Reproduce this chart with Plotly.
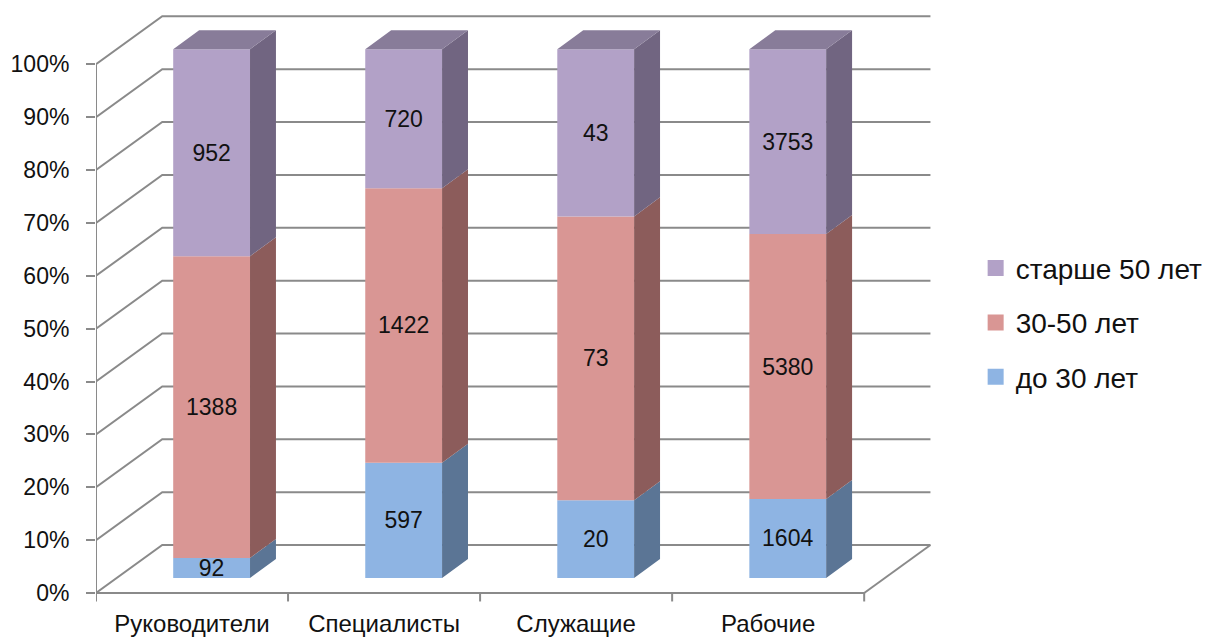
import numpy as np
import plotly.graph_objects as go

# ---------------- data ----------------
categories = ["Руководители", "Специалисты", "Служащие", "Рабочие"]
series_names = ["до 30 лет", "30-50 лет", "старше 50 лет"]
under_30 = [92, 597, 20, 1604]
from_30_to_50 = [1388, 1422, 73, 5380]
over_50 = [952, 720, 43, 3753]
y_ticks = list(range(0, 101, 10))

# ---------------- style ----------------
front_colors = ["#8EB4E3", "#D99694", "#B2A1C7"]
side_colors = ["#5B7595", "#8C5C5B", "#716581"]
top_color = "#887C99"
line_color = "#8A8A8A"
FONT = "Liberation Sans, Arial, sans-serif"

# pseudo-3D geometry (axis units)
DEPTH_X, DEPTH_Y = 0.345, 9.07      # full depth of the walls
BAR_DX, BAR_DY = 0.102, 2.84        # bar front face offset from the front plane
BAR_W = 0.40                        # bar front width
BAR_DEPTH_X, BAR_DEPTH_Y = 0.135, 3.6

counts = np.array([under_30, from_30_to_50, over_50], dtype=float)
pct = counts / counts.sum(axis=0) * 100.0
cum = np.vstack([np.zeros(len(categories)), np.cumsum(pct, axis=0)])
xc = np.arange(len(categories), dtype=float)
xbar = xc + BAR_DX

fig = go.Figure()

# front faces
for s in range(len(series_names)):
    fig.add_trace(go.Bar(
        x=xbar, y=pct[s], base=cum[s] + BAR_DY, width=BAR_W,
        marker=dict(color=front_colors[s], line=dict(width=0)),
        text=[str(v) for v in [under_30, from_30_to_50, over_50][s]],
        textposition="inside", insidetextanchor="middle", textangle=0,
        constraintext="none",
        insidetextfont=dict(family=FONT, size=23, color="#111111"),
        showlegend=False, hoverinfo="skip", name=series_names[s],
    ))

# side faces
for s in range(len(series_names)):
    xs, ys = [], []
    for i in range(len(categories)):
        xr = xbar[i] + BAR_W / 2
        y0 = cum[s, i] + BAR_DY
        y1 = cum[s + 1, i] + BAR_DY
        xs += [xr, xr + BAR_DEPTH_X, xr + BAR_DEPTH_X, xr, xr, None]
        ys += [y0, y0 + BAR_DEPTH_Y, y1 + BAR_DEPTH_Y, y1, y0, None]
    fig.add_trace(go.Scatter(x=xs, y=ys, mode="lines", fill="toself",
                             fillcolor=side_colors[s], line=dict(width=0),
                             showlegend=False, hoverinfo="skip"))

# top faces
xs, ys = [], []
for i in range(len(categories)):
    xl = xbar[i] - BAR_W / 2
    xr = xbar[i] + BAR_W / 2
    yt = cum[-1, i] + BAR_DY
    xs += [xl, xl + BAR_DEPTH_X, xr + BAR_DEPTH_X, xr, xl, None]
    ys += [yt, yt + BAR_DEPTH_Y, yt + BAR_DEPTH_Y, yt, yt, None]
fig.add_trace(go.Scatter(x=xs, y=ys, mode="lines", fill="toself",
                         fillcolor=top_color, line=dict(width=0),
                         showlegend=False, hoverinfo="skip"))

# legend entries
for s in reversed(range(len(series_names))):
    fig.add_trace(go.Scatter(
        x=[None], y=[None], mode="markers", name=series_names[s],
        legendgroup=series_names[s],
        marker=dict(symbol="square", size=16, color=front_colors[s]),
    ))

# walls / gridlines as shapes below the traces
x_left = -0.5
x_right = len(categories) - 0.5
shapes = []
lw = dict(color=line_color, width=2)
for t in y_ticks:
    path = (f"M {x_left},{t} L {x_left + DEPTH_X},{t + DEPTH_Y} "
            f"L {x_right + DEPTH_X},{t + DEPTH_Y}")
    shapes.append(dict(type="path", path=path, xref="x", yref="y",
                       line=lw, layer="below"))
# left wall front edge
shapes.append(dict(type="line", x0=x_left, y0=0, x1=x_left, y1=100,
                   xref="x", yref="y", line=lw, layer="below"))
# floor front edge and right edge
shapes.append(dict(type="line", x0=x_left, y0=0, x1=x_right, y1=0,
                   xref="x", yref="y", line=lw, layer="below"))
shapes.append(dict(type="line", x0=x_right, y0=0, x1=x_right + DEPTH_X,
                   y1=DEPTH_Y, xref="x", yref="y", line=lw, layer="below"))
# category boundary ticks
for j in range(len(categories) + 1):
    shapes.append(dict(type="line", x0=x_left + j, y0=0, x1=x_left + j,
                       y1=-1.6, xref="x", yref="y", line=lw, layer="below"))

fig.update_layout(
    width=1208, height=639,
    margin=dict(l=96, r=267, t=14, b=37, autoexpand=False),
    paper_bgcolor="white", plot_bgcolor="white",
    barmode="overlay",
    shapes=shapes,
    font=dict(family=FONT, size=23, color="#111111"),
    showlegend=True,
    legend=dict(
        x=1.041, y=0.61, xanchor="left", yanchor="top",
        font=dict(family=FONT, size=28, color="#111111"),
        traceorder="grouped", tracegroupgap=15,
        bgcolor="rgba(0,0,0,0)", itemclick=False, itemdoubleclick=False,
    ),
    xaxis=dict(
        range=[-0.5, 3.9], tickvals=list(xc), ticktext=categories,
        showgrid=False, zeroline=False, showline=False, ticks="",
        tickfont=dict(family=FONT, size=24, color="#111111"),
        ticklabelstandoff=5, fixedrange=True, automargin=False,
    ),
    yaxis=dict(
        range=[-1.7, 109.5], tickvals=y_ticks,
        ticktext=[f"{t}%" for t in y_ticks],
        showgrid=False, zeroline=False, showline=False,
        ticks="outside", ticklen=9, tickwidth=2, tickcolor=line_color,
        tickfont=dict(family=FONT, size=23, color="#111111"),
        ticklabelstandoff=12, fixedrange=True, automargin=False,
    ),
)

fig.write_html(
    "out.html",
    config={"displayModeBar": False},
    post_script="document.body.style.margin='0';"
                "document.body.style.overflow='hidden';",
)
